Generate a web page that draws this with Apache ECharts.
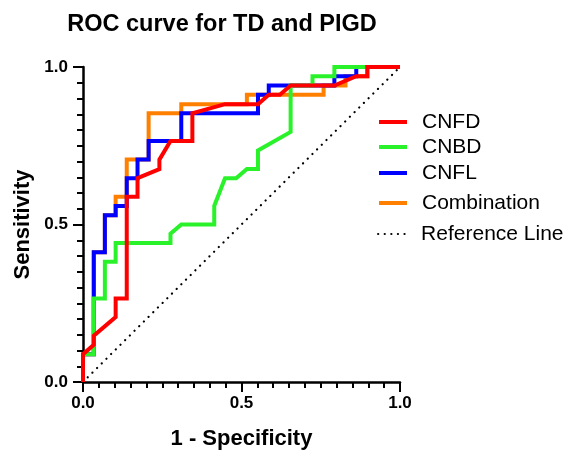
<!DOCTYPE html>
<html>
<head>
<meta charset="utf-8">
<script src="https://cdn.jsdelivr.net/npm/echarts@6/dist/echarts.min.js"></script>
<style>html,body{margin:0;padding:0;background:#fff}#c{width:569px;height:455px}</style>
</head>
<body>
<div id="c"></div>
<script>
// Series names (legend order)
var seriesNames = ['CNFD', 'CNBD', 'CNFL', 'Combination', 'Reference Line'];
// Tick labels
var tickValues = [0, 0.5, 1.0];

// CNFD
var cnfdX = [0,0,0.034,0.034,0.103,0.103,0.138,0.138,0.172,0.172,0.241,0.241,0.276,0.345,0.345,0.448,0.552,0.586,0.621,0.655,0.793,0.862,0.897,0.897,1];
var cnfdY = [0,0.088,0.118,0.147,0.206,0.265,0.265,0.588,0.588,0.647,0.676,0.706,0.765,0.765,0.853,0.882,0.882,0.912,0.912,0.941,0.941,0.971,0.971,1,1];
// CNBD
var cnbdX = [0,0,0.034,0.034,0.069,0.069,0.103,0.103,0.276,0.276,0.310,0.414,0.414,0.448,0.483,0.517,0.552,0.552,0.655,0.655,0.724,0.724,0.793,0.793,1];
var cnbdY = [0,0.088,0.088,0.265,0.265,0.382,0.382,0.441,0.441,0.471,0.5,0.5,0.559,0.647,0.647,0.676,0.676,0.735,0.794,0.941,0.941,0.971,0.971,1,1];
// CNFL
var cnflX = [0,0,0.034,0.034,0.069,0.069,0.103,0.103,0.138,0.138,0.172,0.172,0.207,0.207,0.310,0.310,0.552,0.552,0.586,0.586,0.793,0.793,0.862,0.862,1];
var cnflY = [0,0.088,0.088,0.412,0.412,0.529,0.529,0.559,0.559,0.647,0.647,0.706,0.706,0.765,0.765,0.853,0.853,0.912,0.912,0.941,0.941,0.971,0.971,1,1];
// Combination
var combX = [0,0,0.034,0.034,0.069,0.069,0.103,0.103,0.138,0.138,0.207,0.207,0.310,0.310,0.517,0.517,0.759,0.759,0.828,0.828,0.897,0.897,1];
var combY = [0,0.088,0.088,0.412,0.412,0.529,0.529,0.588,0.588,0.706,0.706,0.853,0.853,0.882,0.882,0.912,0.912,0.941,0.941,0.971,0.971,1,1];
// Reference line
var refX = [0, 1];
var refY = [0, 1];

function pairs(xs, ys) { return xs.map(function (x, i) { return [x, ys[i]]; }); }

var colors = {CNFD: '#ff0000', CNBD: '#2af22a', CNFL: '#0000ff', Combination: '#ff8000', 'Reference Line': '#000000'};
var FONT = 'Liberation Sans, Arial, sans-serif';

function lineSeries(name, data, z) {
  return {
    name: name, type: 'line', data: data, symbol: 'none', z: z, clip: false,
    lineStyle: {color: colors[name], width: 4, cap: 'butt', join: 'miter'},
    itemStyle: {color: colors[name]}
  };
}

var legendCenters = [121, 146, 172, 202, 233];
var legends = seriesNames.map(function (n, i) {
  return {
    data: [n], left: 377, top: legendCenters[i] - 9.5, padding: 0,
    itemWidth: 28, itemHeight: 14, itemGap: 0,
    itemStyle: {opacity: 0},
    lineStyle: i < 4 ? {width: 4} : {width: 2.2},
    textStyle: {fontFamily: FONT, fontSize: 21, color: '#000', padding: [0, 0, 0, 10]},
    selectedMode: false
  };
});

var axisCommon = {
  type: 'value', min: 0, max: 1, interval: 0.5,
  axisLine: {show: true, onZero: false, lineStyle: {color: '#000', width: 2.5}},
  axisTick: {show: true, length: 10, lineStyle: {color: '#000', width: 2}},
  minorTick: {show: true, splitNumber: 10, length: 6, lineStyle: {color: '#000', width: 2}},
  splitLine: {show: false},
  axisLabel: {fontFamily: FONT, fontWeight: 'bold', fontSize: 17, color: '#000',
    formatter: function (v) { return v.toFixed(1); }},
  nameLocation: 'middle',
  nameTextStyle: {fontFamily: FONT, fontWeight: 'bold', fontSize: 22, color: '#000'}
};

var option = {
  animation: false,
  backgroundColor: '#fff',
  title: {
    text: 'ROC curve for TD and PIGD', left: 217, top: 8, textAlign: 'center',
    textStyle: {fontFamily: FONT, fontWeight: 'bold', fontSize: 23.5, color: '#000'}
  },
  legend: legends,
  grid: {left: 83, right: 169, top: 67, bottom: 72, containLabel: false},
  xAxis: Object.assign({}, axisCommon, {
    name: '1 - Specificity', nameGap: 46,
    axisLabel: Object.assign({}, axisCommon.axisLabel, {margin: 13})
  }),
  yAxis: Object.assign({}, axisCommon, {
    name: 'Sensitivity', nameGap: 46,
    axisLabel: Object.assign({}, axisCommon.axisLabel, {margin: 15})
  }),
  series: [
    lineSeries('Combination', pairs(combX, combY), 2),
    lineSeries('CNFL', pairs(cnflX, cnflY), 3),
    lineSeries('CNBD', pairs(cnbdX, cnbdY), 4),
    lineSeries('CNFD', pairs(cnfdX, cnfdY), 5),
    {
      name: 'Reference Line', type: 'line', data: pairs(refX, refY), symbol: 'none', z: 1, clip: false,
      lineStyle: {color: '#000', width: 2.2, type: [0.1, 6.5], cap: 'round'},
      itemStyle: {color: '#000'}
    }
  ]
};

var chart = echarts.init(document.getElementById('c'), null, {renderer: 'canvas'});
chart.setOption(option);
</script>
</body>
</html>
